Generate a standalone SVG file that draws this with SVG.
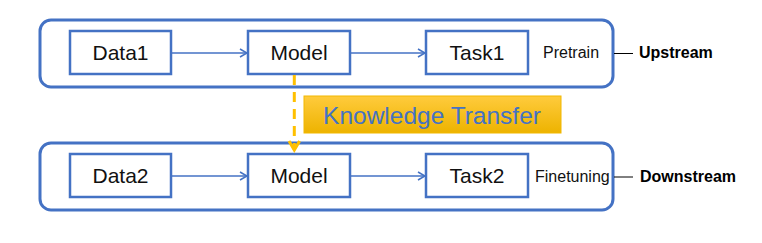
<svg xmlns="http://www.w3.org/2000/svg" width="762" height="243" viewBox="0 0 762 243">
<style>
.outer{fill:none;stroke:#4472C4;stroke-width:3}
.box{fill:#fff;stroke:#4472C4;stroke-width:2.5}
.lbl{font-family:"Liberation Sans",Arial,sans-serif;font-size:21px;fill:#111;text-anchor:middle}
.side{font-family:"Liberation Sans",Arial,sans-serif;font-size:16px;fill:#111}
.bold{font-family:"Liberation Sans",Arial,sans-serif;font-size:16px;font-weight:bold;fill:#000}
.conn{stroke:#4472C4;stroke-width:1.5;fill:none;marker-end:url(#ah)}
</style>
<defs>
<marker id="ah" viewBox="0 0 10 10" refX="9" refY="5" markerWidth="10" markerHeight="10" markerUnits="userSpaceOnUse" orient="auto">
<path d="M2,1 L9,5 L2,9" fill="none" stroke="#4472C4" stroke-width="1.6"/>
</marker>
</defs>
<defs>
<linearGradient id="kg" x1="0" y1="0" x2="0" y2="1">
<stop offset="0" stop-color="#FFCB3D"/>
<stop offset="1" stop-color="#EDB300"/>
</linearGradient>
</defs>
<g id="upstream">
<rect class="outer" x="40" y="20" width="573" height="67" rx="11"/>
<text class="side" x="543" y="58">Pretrain</text>
</g>
<g id="downstream">
<rect class="outer" x="40" y="143" width="573" height="67" rx="11"/>
<text class="side" x="535" y="182">Finetuning</text>
</g>
<g id="data1"><rect class="box" x="70" y="31" width="101" height="43"/><text class="lbl" x="120.5" y="60">Data1</text></g>
<g id="model1"><rect class="box" x="248" y="31" width="102" height="43"/><text class="lbl" x="299" y="60">Model</text></g>
<g id="task1"><rect class="box" x="426" y="31" width="102" height="43"/><text class="lbl" x="477" y="60">Task1</text></g>
<g id="data2"><rect class="box" x="70" y="154" width="101" height="43"/><text class="lbl" x="120.5" y="183">Data2</text></g>
<g id="model2"><rect class="box" x="248" y="154" width="102" height="43"/><text class="lbl" x="299" y="183">Model</text></g>
<g id="task2"><rect class="box" x="426" y="154" width="102" height="43"/><text class="lbl" x="477" y="183">Task2</text></g>
<g id="knowledge">
<rect x="304" y="96" width="257" height="37" fill="url(#kg)" stroke="#F2B800" stroke-width="1"/>
<text x="432" y="123.5" font-family="'Liberation Sans',Arial,sans-serif" font-size="24.5" fill="#4472C4" text-anchor="middle">Knowledge Transfer</text>
</g>
<g id="upstream-label"><text class="bold" x="639" y="58">Upstream</text></g>
<g id="downstream-label"><text class="bold" x="640" y="182">Downstream</text></g>
<g id="connectors">
<line class="conn" x1="172" y1="53" x2="247" y2="53"/>
<line class="conn" x1="351" y1="53" x2="425" y2="53"/>
<line class="conn" x1="172" y1="176" x2="247" y2="176"/>
<line class="conn" x1="351" y1="176" x2="425" y2="176"/>
<line x1="294.3" y1="75" x2="294.3" y2="150" stroke="#FFC000" stroke-width="3" stroke-dasharray="10,7"/>
<polyline points="289,141 294.3,150 299.6,141" fill="none" stroke="#FFC000" stroke-width="3"/>
<line x1="614" y1="53.5" x2="633" y2="53.5" stroke="#000" stroke-width="1"/>
<line x1="614" y1="177" x2="633" y2="177" stroke="#000" stroke-width="1"/>
</g>
</svg>
